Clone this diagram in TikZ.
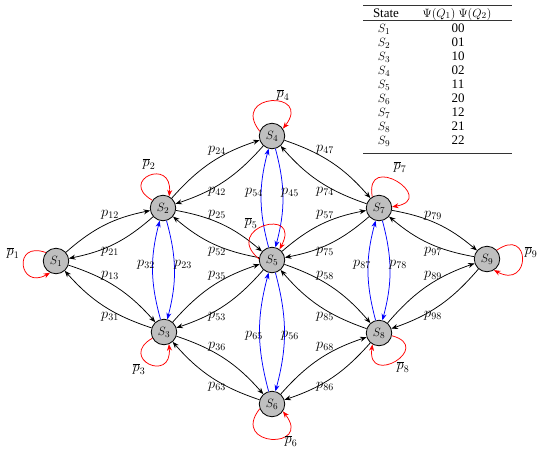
\documentclass[tikz,border=0pt]{standalone}
\usepackage{fontspec}
\setmainfont{Liberation Serif}
\usetikzlibrary{arrows.meta}
\begin{document}
\begin{tikzpicture}[x=1pt,y=1pt,
  font=\fontsize{13}{15}\selectfont,
  state/.style={circle, draw=black, line width=0.8pt, fill=black!25, minimum size=25.5pt, inner sep=0pt, font=\fontsize{13}{15}\selectfont},
  tr/.style={-{Stealth[length=6.5pt,width=5pt]}, line width=0.75pt, black},
  vtr/.style={tr, blue},
  selfl/.style={-{Stealth[length=6.5pt,width=5pt]}, line width=0.75pt, red},
  lab/.style={inner sep=0pt, font=\fontsize{14}{16}\selectfont},
  cell/.style={inner sep=0pt, anchor=base, font=\fontsize{13}{15}\selectfont},
]
\useasboundingbox (0,0) rectangle (540,-455);

% states
\node[state] (S1) at (56,-261) {$S_1$};
\node[state] (S2) at (163,-208) {$S_2$};
\node[state] (S3) at (164,-332) {$S_3$};
\node[state] (S4) at (272,-136) {$S_4$};
\node[state] (S5) at (272,-260) {$S_5$};
\node[state] (S6) at (272,-404) {$S_6$};
\node[state] (S7) at (379,-208) {$S_7$};
\node[state] (S8) at (379,-333) {$S_8$};
\node[state] (S9) at (487,-259) {$S_9$};

% black transitions
\foreach \a/\b in {1/2,2/1,1/3,3/1,2/4,4/2,2/5,5/2,3/5,5/3,3/6,6/3,4/7,7/4,5/7,7/5,5/8,8/5,6/8,8/6,7/9,9/7,8/9,9/8}
  \draw[tr] (S\a) to[bend left=15] (S\b);
% blue transitions
\foreach \a/\b in {2/3,3/2,4/5,5/4,5/6,6/5,7/8,8/7}
  \draw[vtr] (S\a) to[bend left=15] (S\b);

% self loops
\draw[selfl] (S1.140) to[out=160,in=210,distance=36pt] (S1.243);
\draw[selfl] (S2.144) to[out=150,in=85,distance=40pt] (S2.62);
\draw[selfl] (S3.208) to[out=210,in=275,distance=40pt] (S3.292);
\draw[selfl] (S4.159) to[out=128,in=52,distance=49pt] (S4.34);
\draw[selfl] (S5.175) to[out=140,in=62,distance=49pt] (S5.55);
\draw[selfl] (S6.201) to[out=232,in=308,distance=49pt] (S6.326);
\draw[selfl] (S7.121) to[out=100,in=10,distance=47pt] (S7.5);
\draw[selfl] (S8.-12) to[out=-15,in=262,distance=44pt] (S8.240);
\draw[selfl] (S9.42) to[out=35,in=-28,distance=42pt] (S9.-58);

% transition labels
\node[lab] (l12) at (110,-215) {$p_{12}$};
\node[lab] (l21) at (110,-252) {$p_{21}$};
\node[lab] (l13) at (110,-276) {$p_{13}$};
\node[lab] (l31) at (110,-317) {$p_{31}$};
\node[lab] (l24) at (217,-151) {$p_{24}$};
\node[lab] (l42) at (217,-192) {$p_{42}$};
\node[lab] (l25) at (217,-215) {$p_{25}$};
\node[lab] (l52) at (217,-252) {$p_{52}$};
\node[lab] (l35) at (217,-276) {$p_{35}$};
\node[lab] (l53) at (217,-317) {$p_{53}$};
\node[lab] (l36) at (217,-347) {$p_{36}$};
\node[lab] (l63) at (217,-387) {$p_{63}$};
\node[lab] (l32) at (146,-265) {$p_{32}$};
\node[lab] (l23) at (183,-265) {$p_{23}$};
\node[lab] (l54) at (254,-193) {$p_{54}$};
\node[lab] (l45) at (290,-193) {$p_{45}$};
\node[lab] (l65) at (254,-336) {$p_{65}$};
\node[lab] (l56) at (290,-336) {$p_{56}$};
\node[lab] (l47) at (325,-150) {$p_{47}$};
\node[lab] (l74) at (325,-192) {$p_{74}$};
\node[lab] (l57) at (325,-215) {$p_{57}$};
\node[lab] (l75) at (325,-252) {$p_{75}$};
\node[lab] (l58) at (325,-276) {$p_{58}$};
\node[lab] (l85) at (325,-317) {$p_{85}$};
\node[lab] (l68) at (325,-347) {$p_{68}$};
\node[lab] (l86) at (325,-387) {$p_{86}$};
\node[lab] (l79) at (433,-216) {$p_{79}$};
\node[lab] (l97) at (433,-252) {$p_{97}$};
\node[lab] (l89) at (433,-276) {$p_{89}$};
\node[lab] (l98) at (433,-316) {$p_{98}$};
\node[lab] (l87) at (362,-265) {$p_{87}$};
\node[lab] (l78) at (398,-265) {$p_{78}$};

% loop labels
\node[lab] (q1) at (13,-253) {$\overline{p}_1$};
\node[lab] (q2) at (149,-164) {$\overline{p}_2$};
\node[lab] (q3) at (139,-369) {$\overline{p}_3$};
\node[lab] (q4) at (283,-95) {$\overline{p}_4$};
\node[lab] (q5) at (251,-223) {$\overline{p}_5$};
\node[lab] (q6) at (291,-441) {$\overline{p}_6$};
\node[lab] (q7) at (400,-167) {$\overline{p}_7$};
\node[lab] (q8) at (403,-367) {$\overline{p}_8$};
\node[lab] (q9) at (531,-252) {$\overline{p}_9$};

% table
\draw[line width=0.9pt, black!80] (363,-5) -- (512,-5);
\draw[line width=0.5pt, black!80] (363,-20.5) -- (512,-20.5);
\draw[line width=0.9pt, black!80] (363,-153) -- (512,-153);
\node[cell] (hs) at (386,-17) {State};
\node[cell] (hp) at (457,-17) {$\Psi(Q_1)$ $\Psi(Q_2)$};
\foreach \i/\v in {1/00,2/01,3/10,4/02,5/11,6/20,7/12,8/21,9/22} {
  \node[cell] (r\i) at (384,{-32.5-14*(\i-1)}) {$S_{\i}$};
  \node[cell] (v\i) at (458,{-32.5-14*(\i-1)}) {\v};
}
\end{tikzpicture}
\end{document}
